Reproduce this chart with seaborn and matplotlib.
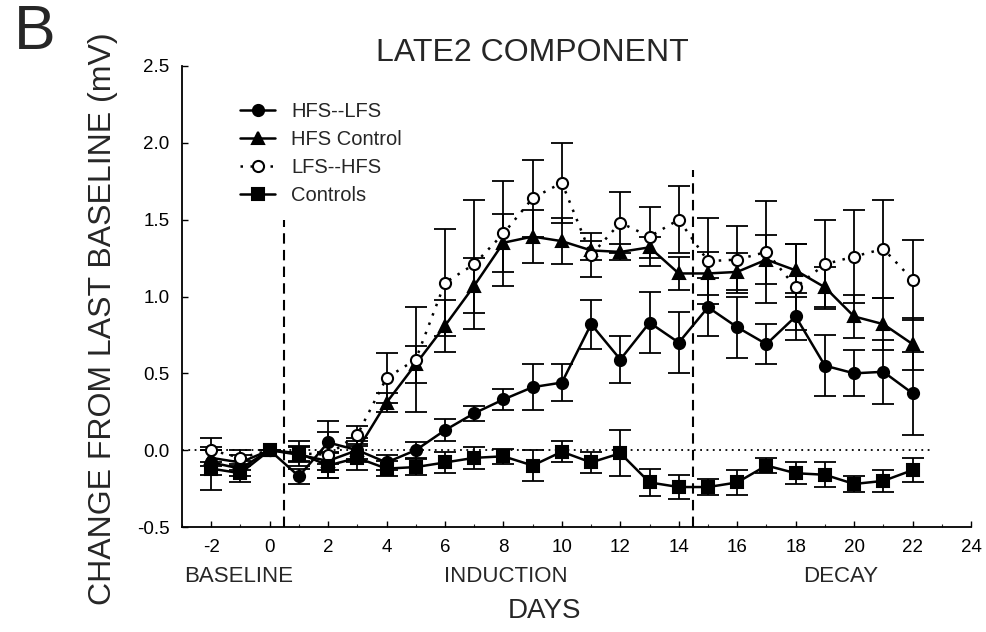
import numpy as np
import pandas as pd
import matplotlib
matplotlib.use("Agg")
import matplotlib.pyplot as plt
import seaborn as sns

days = list(range(-2, 23))

hfs_lfs = [-0.08, -0.12, 0.0, -0.17, 0.05, 0.0, -0.08, 0.0, 0.13, 0.24, 0.33, 0.41, 0.44,
           0.82, 0.59, 0.83, 0.70, 0.93, 0.80, 0.69, 0.87, 0.55, 0.50, 0.51, 0.37]
hfs_lfs_err = [0.08, 0.05, 0.0, 0.05, 0.14, 0.06, 0.05, 0.05, 0.07, 0.05, 0.07, 0.15, 0.12,
               0.16, 0.15, 0.20, 0.20, 0.19, 0.20, 0.13, 0.15, 0.20, 0.15, 0.21, 0.27]

hfs_control = [-0.05, -0.08, 0.0, -0.03, -0.07, 0.0, 0.31, 0.56, 0.81, 1.07, 1.35, 1.39, 1.36,
               1.30, 1.29, 1.32, 1.15, 1.15, 1.16, 1.24, 1.17, 1.06, 0.87, 0.82, 0.69]
hfs_control_err = [0.05, 0.05, 0.0, 0.05, 0.06, 0.08, 0.06, 0.12, 0.17, 0.18, 0.19, 0.17, 0.15,
                   0.06, 0.05, 0.07, 0.11, 0.14, 0.12, 0.16, 0.17, 0.13, 0.14, 0.17, 0.17]

lfs_hfs = [0.0, -0.05, 0.0, -0.02, -0.03, 0.10, 0.47, 0.59, 1.09, 1.21, 1.41, 1.64, 1.74,
           1.27, 1.48, 1.39, 1.50, 1.23, 1.24, 1.29, 1.06, 1.21, 1.26, 1.31, 1.11]
lfs_hfs_err = [0.08, 0.05, 0.0, 0.05, 0.15, 0.06, 0.16, 0.34, 0.35, 0.42, 0.34, 0.25, 0.26,
               0.14, 0.20, 0.19, 0.22, 0.28, 0.22, 0.33, 0.28, 0.29, 0.30, 0.32, 0.26]

controls = [-0.12, -0.15, 0.0, -0.02, -0.10, -0.05, -0.12, -0.11, -0.08, -0.05, -0.04, -0.10, -0.01,
            -0.08, -0.02, -0.21, -0.24, -0.24, -0.21, -0.10, -0.15, -0.16, -0.22, -0.20, -0.13]
controls_err = [0.14, 0.06, 0.0, 0.08, 0.08, 0.08, 0.05, 0.05, 0.07, 0.07, 0.05, 0.10, 0.07,
                0.07, 0.15, 0.09, 0.08, 0.05, 0.08, 0.05, 0.07, 0.08, 0.05, 0.07, 0.08]

series_names = ["HFS--LFS", "HFS Control", "LFS--HFS", "Controls"]
y_ticks = [-0.5, 0.0, 0.5, 1.0, 1.5, 2.0, 2.5]
x_ticks = list(range(-2, 25, 2))

sns.set_style("ticks")
plt.rcParams["font.family"] = ["Liberation Sans", "DejaVu Sans"]
plt.rcParams["axes.unicode_minus"] = False

fig = plt.figure(figsize=(9.86, 6.32), dpi=100)
ax = fig.add_axes([182 / 986, 1 - 527 / 632, (971 - 182) / 986, (527 - 66) / 632])

df = pd.DataFrame({
    "day": days * 4,
    "value": hfs_lfs + hfs_control + lfs_hfs + controls,
    "err": hfs_lfs_err + hfs_control_err + lfs_hfs_err + controls_err,
    "series": sum([[s] * len(days) for s in series_names], []),
})

styles = {
    "HFS--LFS": dict(marker="o", linestyle="-", mfc="black"),
    "HFS Control": dict(marker="^", linestyle="-", mfc="black"),
    "LFS--HFS": dict(marker="o", linestyle=(0, (1, 3)), mfc="white"),
    "Controls": dict(marker="s", linestyle="-", mfc="black"),
}

# reference lines
ax.hlines(0, -3, 22.7, colors="black", linestyles=(0, (1, 2.5)), lw=1.3, zorder=1)
ax.vlines(0.5, -0.5, 1.5, colors="black", linestyles=(0, (5, 3)), lw=1.5, zorder=1)
ax.vlines(14.5, -0.5, 1.82, colors="black", linestyles=(0, (5, 3)), lw=1.5, zorder=1)

for name in series_names:
    sub = df[df["series"] == name]
    st = styles[name]
    ax.errorbar(sub["day"], sub["value"], yerr=sub["err"], fmt="none", ecolor="black",
                elinewidth=1.3, capsize=8, capthick=1.3, zorder=2)
    sns.lineplot(data=sub, x="day", y="value", ax=ax, color="black", errorbar=None,
                 marker=st["marker"], linestyle=st["linestyle"], markerfacecolor=st["mfc"],
                 markeredgecolor="black", markeredgewidth=1.5, markersize=8, lw=1.8,
                 label=name, zorder=3)

ax.set_xlim(-3, 24)
ax.set_ylim(-0.5, 2.5)
ax.set_xticks(x_ticks)
ax.set_xticks(range(-3, 25), minor=True)
ax.set_yticks(y_ticks)
ax.set_yticklabels([f"{v:.1f}" for v in y_ticks])
ax.set_xticklabels([str(v) for v in x_ticks])
ax.set_xlabel("")
ax.set_ylabel("")
ax.tick_params(axis="both", which="major", direction="in", length=4, width=1,
               labelsize=13.5, colors="black", pad=9)
ax.tick_params(axis="x", which="minor", direction="in", length=2.5, width=0.8)
for s in ["top", "right"]:
    ax.spines[s].set_visible(False)
for s in ["left", "bottom"]:
    ax.spines[s].set_color("black")
    ax.spines[s].set_linewidth(1.3)

leg = ax.legend(loc="upper left", bbox_to_anchor=(232 / 986, 1 - 94 / 632),
                bbox_transform=fig.transFigure, frameon=False, fontsize=14.5,
                handlelength=1.75, handletextpad=0.8, labelspacing=0.45, borderaxespad=0)

fig.text(532 / 986, 1 - 53 / 632, "LATE2 COMPONENT", fontsize=23, ha="center", va="center")
fig.text(35 / 986, 1 - 49 / 632, "B", fontsize=45, ha="center", va="baseline")
fig.text(103 / 986, 1 - 319 / 632, "CHANGE FROM LAST BASELINE (mV)", fontsize=23,
         rotation=90, ha="center", va="center")
fig.text(239 / 986, 1 - 577 / 632, "BASELINE", fontsize=16, ha="center", va="center")
fig.text(506 / 986, 1 - 577 / 632, "INDUCTION", fontsize=16, ha="center", va="center")
fig.text(841 / 986, 1 - 577 / 632, "DECAY", fontsize=16, ha="center", va="center")
fig.text(545 / 986, 1 - 611 / 632, "DAYS", fontsize=20, ha="center", va="center")

fig.savefig("out.png", dpi=100)
